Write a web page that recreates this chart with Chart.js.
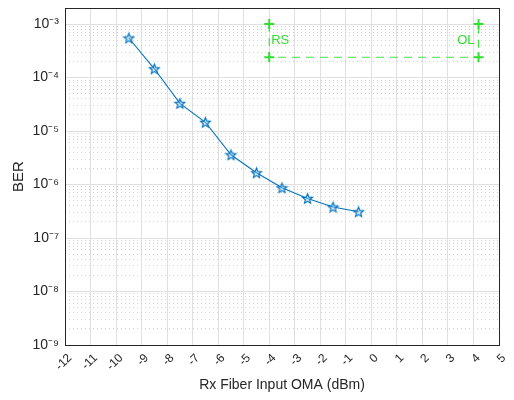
<!DOCTYPE html>
<html>
<head>
<meta charset="utf-8">
<script src="https://cdn.jsdelivr.net/npm/chart.js@4"></script>
<style>
  html, body { margin: 0; padding: 0; background: #fff; }
  #wrap { width: 514px; height: 400px; }
</style>
</head>
<body>
<div id="wrap"><canvas id="ber-chart" width="514" height="400"></canvas></div>
<script>
// measured points (x = Rx OMA in dBm, y = BER)
var rxOma = [-9.5, -8.5, -7.5, -6.5, -5.5, -4.5, -3.5, -2.5, -1.5, -0.5];
var berValues = [5.5e-4, 1.46e-4, 3.3e-5, 1.46e-5, 3.6e-6, 1.66e-6, 8.7e-7, 5.5e-7, 3.8e-7, 3.1e-7];

// RS / OL window (green)
var limitX = [-4, -4, 4.2, 4.2];
var limitY = [1e-3, 2.4e-4, 2.4e-4, 1e-3];
var limitLabels = ["RS", "OL"];
var limitLabelX = [-4, 4.2];
var limitLabelY = [5e-4, 5e-4];

var xTicks = [-12, -11, -10, -9, -8, -7, -6, -5, -4, -3, -2, -1, 0, 1, 2, 3, 4, 5];
var yDecades = [-9, -8, -7, -6, -5, -4, -3];

var xMin = -12, xMax = 5, yMin = 1e-9, yMax = 2e-3;
var supers = { "-": "\u207B", "0": "\u2070", "1": "\u00B9", "2": "\u00B2", "3": "\u00B3", "4": "\u2074", "5": "\u2075", "6": "\u2076", "7": "\u2077", "8": "\u2078", "9": "\u2079" };

function supText(n) {
  return String(n).split("").map(function (c) { return supers[c]; }).join("");
}

// pentagram marker like matlab 'p'
function makeStar() {
  var c = document.createElement("canvas");
  c.width = 13; c.height = 13;
  var g = c.getContext("2d");
  g.beginPath();
  for (var i = 0; i < 10; i++) {
    var r = i % 2 == 0 ? 5.2 : 2.3;
    var a = -Math.PI / 2 + i * Math.PI / 5;
    var px = 6.5 + r * Math.cos(a), py = 7 + r * Math.sin(a);
    if (i == 0) g.moveTo(px, py); else g.lineTo(px, py);
  }
  g.closePath();
  g.fillStyle = "rgba(150,200,235,0.45)";
  g.fill();
  g.lineWidth = 1.1;
  g.strokeStyle = "#0072BD";
  g.stroke();
  return c;
}

var majorVals = yDecades.map(function (d) { return Math.pow(10, d); });
var minorVals = [];
yDecades.forEach(function (d) {
  for (var m = 2; m <= 9; m++) {
    var v = m * Math.pow(10, d);
    if (v <= yMax) minorVals.push(v);
  }
});

var labelPlugin = {
  id: "limitText",
  afterDatasetsDraw: function (ch) {
    var ctx = ch.ctx, xs = ch.scales.x, ys = ch.scales.y;
    ctx.save();
    ctx.fillStyle = "#33dd33";
    ctx.font = "13px 'Liberation Sans', Arial, sans-serif";
    ctx.textBaseline = "middle";
    for (var i = 0; i < limitLabels.length; i++) {
      var px = xs.getPixelForValue(limitLabelX[i]);
      var py = ys.getPixelForValue(limitLabelY[i]);
      ctx.textAlign = i == 0 ? "left" : "right";
      ctx.fillText(limitLabels[i], px + (i == 0 ? 2 : -4), py);
    }
    ctx.restore();
  }
};

// chart.js reserves room for edge tick labels, matlab does not
function noPad(s) {
  s.paddingTop = 0; s.paddingBottom = 0; s.paddingLeft = 0; s.paddingRight = 0;
}

var font = "'Liberation Sans', Arial, sans-serif";
var axisColor = "#262626";
var ctx = document.getElementById("ber-chart").getContext("2d");

var myChart = new Chart(ctx, {
  type: "scatter",
  data: {
    datasets: [
      {
        label: "BER",
        data: rxOma.map(function (x, i) { return { x: x, y: berValues[i] }; }),
        showLine: true,
        borderColor: "#0072BD",
        borderWidth: 1.1,
        pointStyle: makeStar(),
        pointRadius: 6,
        tension: 0
      },
      {
        label: "limits",
        data: limitX.map(function (x, i) { return { x: x, y: limitY[i] }; }),
        showLine: true,
        borderColor: "#44e044",
        borderWidth: 1.2,
        borderDash: [8, 6],
        pointStyle: "cross",
        pointRadius: 5,
        pointBorderWidth: 2,
        pointBorderColor: "#33dd33",
        tension: 0
      }
    ]
  },
  options: {
    responsive: false,
    animation: false,
    layout: { padding: { top: 8, right: 15, bottom: 0, left: 0 } },
    plugins: { legend: { display: false }, tooltip: { enabled: false } },
    scales: {
      x: {
        type: "linear",
        position: "bottom",
        min: xMin,
        max: xMax,
        afterBuildTicks: function (s) { s.ticks = xTicks.map(function (v) { return { value: v }; }); },
        afterFit: function (s) { s.height = 55; noPad(s); },
        ticks: {
          color: axisColor,
          font: { family: font, size: 12 },
          minRotation: 45,
          maxRotation: 45,
          labelOffset: 5,
          padding: 6
        },
        grid: { color: "#e0e0e0", lineWidth: 1, drawTicks: false },
        border: { display: true, color: axisColor, width: 1 },
        title: {
          display: true,
          text: "Rx Fiber Input OMA (dBm)",
          color: axisColor,
          font: { family: font, size: 14 },
          padding: { top: 0, bottom: 6 }
        }
      },
      xTop: {
        type: "linear",
        position: "top",
        min: xMin,
        max: xMax,
        afterFit: function (s) { s.height = 0; noPad(s); },
        ticks: { display: false },
        grid: { drawOnChartArea: false, drawTicks: false },
        border: { display: true, color: axisColor, width: 1 }
      },
      y: {
        type: "logarithmic",
        position: "left",
        min: yMin,
        max: yMax,
        afterBuildTicks: function (s) { s.ticks = majorVals.map(function (v) { return { value: v }; }); },
        afterFit: function (s) { s.width = 65; noPad(s); },
        ticks: {
          color: axisColor,
          font: { family: font, size: 14 },
          padding: 6,
          callback: function (v) { return "10" + supText(Math.round(Math.log10(v))); }
        },
        grid: { color: "#e0e0e0", lineWidth: 1, drawTicks: false },
        border: { display: true, color: axisColor, width: 1 },
        title: {
          display: true,
          text: "BER",
          color: axisColor,
          font: { family: font, size: 15 },
          padding: { top: 10, bottom: 0 }
        }
      },
      yMinor: {
        type: "logarithmic",
        position: "right",
        min: yMin,
        max: yMax,
        afterBuildTicks: function (s) { s.ticks = minorVals.map(function (v) { return { value: v }; }); },
        afterFit: function (s) { s.width = 0; noPad(s); },
        ticks: { display: false },
        grid: { color: "#d4d4d4", lineWidth: 1, drawTicks: false },
        border: { display: true, color: axisColor, width: 1, dash: [1, 3] }
      }
    }
  },
  plugins: [labelPlugin]
});
</script>
</body>
</html>
